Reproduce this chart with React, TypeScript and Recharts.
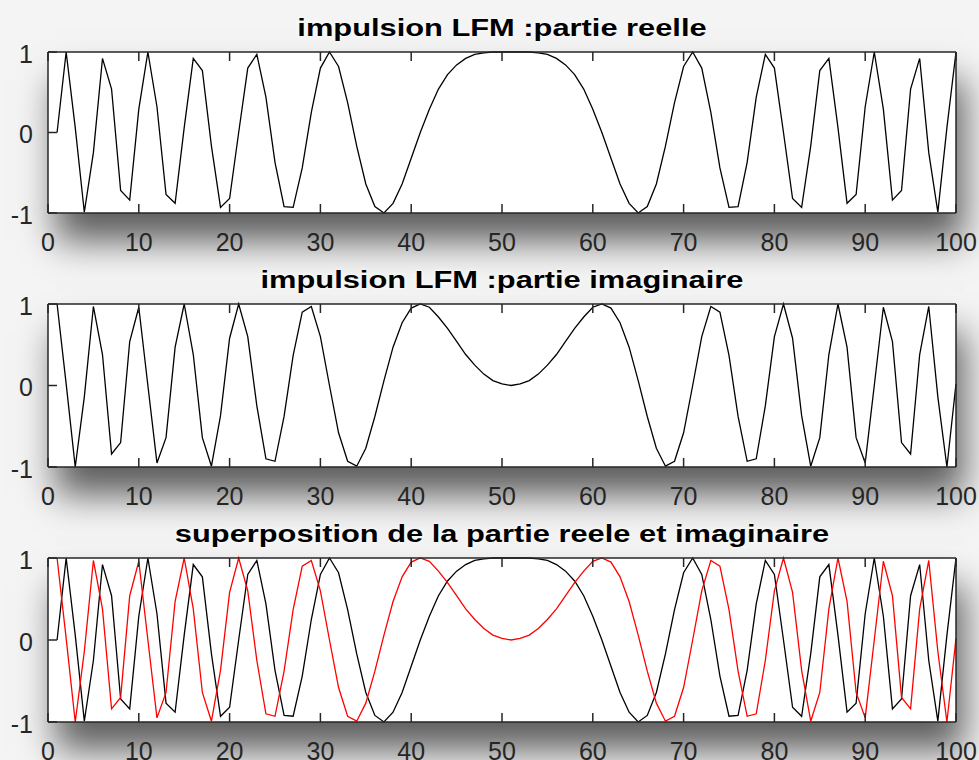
import React from 'react';
import { LineChart, Line, XAxis, YAxis } from 'recharts';

// sample values of the LFM pulse, samples 1..100
const realPart = [
  0, 1.0, 0.06, -0.99, -0.25, 0.92, 0.54, -0.72, -0.84, 0.29,
  1, 0.32, -0.77, -0.88, 0.06, 0.92, 0.77, -0.17, -0.93, -0.82,
  0, 0.8, 0.97, 0.44, -0.37, -0.92, -0.93, -0.44, 0.25, 0.8,
  1, 0.82, 0.37, -0.17, -0.64, -0.92, -1.0, -0.88, -0.64, -0.32,
  0, 0.29, 0.54, 0.72, 0.84, 0.92, 0.97, 0.99, 1.0, 1.0,
  1, 1.0, 1.0, 0.99, 0.97, 0.92, 0.84, 0.72, 0.54, 0.29,
  0, -0.32, -0.64, -0.88, -1.0, -0.92, -0.64, -0.17, 0.37, 0.82,
  1, 0.8, 0.25, -0.44, -0.93, -0.92, -0.37, 0.44, 0.97, 0.8,
  0, -0.82, -0.93, -0.17, 0.77, 0.92, 0.06, -0.88, -0.77, 0.32,
  1, 0.29, -0.84, -0.72, 0.54, 0.92, -0.25, -0.99, 0.06, 1.0,
];

const imagPart = [
  1, 0.02, -1.0, -0.14, 0.97, 0.38, -0.84, -0.7, 0.54, 0.96,
  0, -0.95, -0.64, 0.47, 1.0, 0.38, -0.64, -0.99, -0.37, 0.58,
  1, 0.6, -0.25, -0.9, -0.93, -0.38, 0.37, 0.9, 0.97, 0.6,
  0, -0.58, -0.93, -0.99, -0.77, -0.38, 0.06, 0.47, 0.77, 0.95,
  1, 0.96, 0.84, 0.7, 0.54, 0.38, 0.25, 0.14, 0.06, 0.02,
  0, 0.02, 0.06, 0.14, 0.25, 0.38, 0.54, 0.7, 0.84, 0.96,
  1, 0.95, 0.77, 0.47, 0.06, -0.38, -0.77, -0.99, -0.93, -0.58,
  0, 0.6, 0.97, 0.9, 0.37, -0.38, -0.93, -0.9, -0.25, 0.6,
  1, 0.58, -0.37, -0.99, -0.64, 0.38, 1.0, 0.47, -0.64, -0.95,
  0, 0.96, 0.54, -0.7, -0.84, 0.38, 0.97, -0.14, -1.0, 0.02,
];

const xTicks = [0, 10, 20, 30, 40, 50, 60, 70, 80, 90, 100];
const yTicks = [-1, 0, 1];

const titles = [
  'impulsion LFM :partie reelle',
  'impulsion LFM :partie imaginaire',
  'superposition de la partie reele et imaginaire',
];

const samples = realPart.map((re, i) => ({ n: i + 1, re, im: imagPart[i] }));

const AXIS = '#262626';
const FONT = '"Liberation Sans", Arial, Helvetica, sans-serif';
const PLOT_LEFT = 48;
const PLOT_RIGHT = 956;
const M_TOP = 10;
const M_BOTTOM = 50;

const axisLine = { stroke: AXIS, strokeWidth: 1.5 };
const tickStyle = { fill: AXIS, fontSize: 25, fontFamily: FONT };
const noLabel = () => '';

type Series = { key: string; color: string };

function Panel({ top, height, title, series }: { top: number; height: number; title: string; series: Series[] }) {
  return (
    <>
      {/* white axes with a soft drop shadow */}
      <div
        style={{
          position: 'absolute',
          left: PLOT_LEFT,
          top,
          width: PLOT_RIGHT - PLOT_LEFT,
          height,
          background: '#fff',
          boxShadow: '8px 28px 34px rgba(0,0,0,0.62)',
        }}
      />
      <div
        style={{
          position: 'absolute',
          left: 0,
          width: 1004,
          top: top - 35.5,
          textAlign: 'center',
          fontFamily: FONT,
          fontWeight: 'bold',
          fontSize: 23,
          lineHeight: '23px',
          color: '#000',
          transform: 'scaleX(1.34)',
          transformOrigin: '502px 0',
          textShadow: '0 0 4px #fff',
          whiteSpace: 'nowrap',
        }}
      >
        {title}
      </div>
      <div style={{ position: 'absolute', left: 0, top: top - M_TOP - 1 }}>
        <LineChart
          width={979}
          height={M_TOP + height + M_BOTTOM + 2}
          data={samples}
          margin={{ top: M_TOP, left: PLOT_LEFT - 1, right: 979 - PLOT_RIGHT - 1, bottom: M_BOTTOM }}
        >
          <XAxis
            xAxisId="b"
            dataKey="n"
            type="number"
            domain={[0, 100]}
            ticks={xTicks}
            height={1}
            axisLine={axisLine}
            tickLine={axisLine}
            tickSize={-9}
            tickMargin={29}
            tick={tickStyle}
            interval={0}
          />
          <XAxis
            xAxisId="t"
            orientation="top"
            dataKey="n"
            type="number"
            domain={[0, 100]}
            ticks={xTicks}
            height={1}
            axisLine={axisLine}
            tickLine={axisLine}
            tickSize={-9}
            tickFormatter={noLabel}
            interval={0}
          />
          <YAxis
            yAxisId="l"
            type="number"
            domain={[-1, 1]}
            ticks={yTicks}
            width={1}
            axisLine={axisLine}
            tickLine={axisLine}
            tickSize={-9}
            tickMargin={24}
            tick={{ ...tickStyle, dy: 2 }}
            interval={0}
          />
          <YAxis
            yAxisId="r"
            orientation="right"
            type="number"
            domain={[-1, 1]}
            ticks={yTicks}
            width={1}
            axisLine={axisLine}
            tickLine={axisLine}
            tickSize={-9}
            tickFormatter={noLabel}
            interval={0}
          />
          {series.map((s) => (
            <Line
              key={s.key}
              xAxisId="b"
              yAxisId="l"
              type="linear"
              dataKey={s.key}
              stroke={s.color}
              strokeWidth={1.3}
              dot={false}
              isAnimationActive={false}
            />
          ))}
        </LineChart>
      </div>
    </>
  );
}

export default function App() {
  return (
    <div
      style={{
        position: 'absolute',
        left: 0,
        top: 0,
        width: 979,
        height: 760,
        overflow: 'hidden',
        background: '#f4f4f4',
      }}
    >
      <Panel top={52} height={161} title={titles[0]} series={[{ key: 're', color: '#000000' }]} />
      <Panel top={304} height={163} title={titles[1]} series={[{ key: 'im', color: '#000000' }]} />
      <Panel
        top={558}
        height={164}
        title={titles[2]}
        series={[
          { key: 're', color: '#000000' },
          { key: 'im', color: '#ff0000' },
        ]}
      />
    </div>
  );
}
